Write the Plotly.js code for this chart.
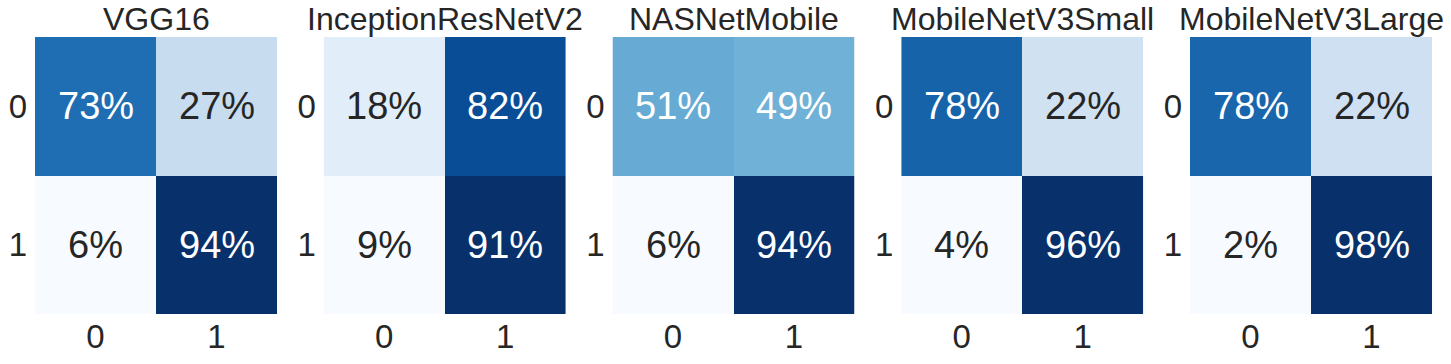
<!DOCTYPE html>
<html>
<head>
<meta charset="utf-8">
<script src="https://cdn.plot.ly/plotly-3.0.1.min.js"></script>
<style>
  html, body { margin: 0; padding: 0; background: white; }
  #chart { width: 1451px; height: 364px; }
</style>
</head>
<body>
<div id="chart"></div>
<script>
// confusion matrices, row-normalised, in percent
const models = ['VGG16', 'InceptionResNetV2', 'NASNetMobile', 'MobileNetV3Small', 'MobileNetV3Large'];
const classes = ['0', '1'];
const vgg16 = [[73, 27], [6, 94]];
const inceptionResNetV2 = [[18, 82], [9, 91]];
const nasNetMobile = [[51, 49], [6, 94]];
const mobileNetV3Small = [[78, 22], [4, 96]];
const mobileNetV3Large = [[78, 22], [2, 98]];
const matrices = [vgg16, inceptionResNetV2, nasNetMobile, mobileNetV3Small, mobileNetV3Large];

// matplotlib "Blues"
const BLUES = [
  [0, '#f7fbff'], [0.125, '#deebf7'], [0.25, '#c6dbef'], [0.375, '#9ecae1'],
  [0.5, '#6baed6'], [0.625, '#4292c6'], [0.75, '#2171b5'], [0.875, '#08519c'], [1, '#08306b'],
];

const W = 1451, H = 364;
const PANEL_LEFT = 35, PANEL_STEP = 288.75, PANEL_W = 242;
const TOP = 37, BOTTOM = 314;
const FONT = 'Liberation Sans, Arial, sans-serif';
const DARK = '#262626';

const data = [];
const layout = {
  width: W, height: H,
  margin: { t: 0, r: 0, b: 0, l: 0 },
  paper_bgcolor: 'white',
  plot_bgcolor: 'white',
  font: { family: FONT, color: DARK },
  showlegend: false,
  annotations: [],
};

matrices.forEach((m, i) => {
  const n = i + 1;
  const xa = n === 1 ? 'x' : 'x' + n;
  const ya = n === 1 ? 'y' : 'y' + n;
  const z = m.map(row => row.map(v => v / 100));
  // colour range follows each matrix (seaborn default)
  const flat = z.flat();
  const lo = Math.min(...flat), hi = Math.max(...flat);

  data.push({
    type: 'heatmap',
    z: z,
    x: classes,
    y: classes,
    xaxis: xa,
    yaxis: ya,
    zmin: lo,
    zmax: hi,
    colorscale: BLUES,
    showscale: false,
    hovertemplate: '%{y} → %{x}: %{z:.0%}<extra></extra>',
  });

  const left = (PANEL_LEFT + i * PANEL_STEP) / W;
  const right = (PANEL_LEFT + i * PANEL_STEP + PANEL_W) / W;
  const axisCommon = {
    showgrid: false, zeroline: false, showline: false, ticks: '',
    tickfont: { size: 33, color: DARK, family: FONT },
    fixedrange: true,
  };
  layout['xaxis' + (n === 1 ? '' : n)] = {
    ...axisCommon,
    domain: [left, right],
    anchor: ya,
    type: 'category',
    ticklabelstandoff: 0,
  };
  layout['yaxis' + (n === 1 ? '' : n)] = {
    ...axisCommon,
    domain: [1 - BOTTOM / H, 1 - TOP / H],
    anchor: xa,
    type: 'category',
    autorange: 'reversed',
    ticklabelstandoff: 7,
  };

  // model title
  layout.annotations.push({
    text: models[i],
    xref: 'paper', yref: 'paper',
    x: (left + right) / 2, y: 1 - TOP / H,
    xanchor: 'center', yanchor: 'bottom',
    yshift: -2,
    showarrow: false,
    font: { size: 32, color: DARK, family: FONT },
  });

  // cell labels
  m.forEach((row, r) => {
    row.forEach((v, c) => {
      const t = (v / 100 - lo) / (hi - lo);
      layout.annotations.push({
        text: v + '%',
        xref: xa, yref: ya,
        x: classes[c], y: classes[r],
        showarrow: false,
        font: { size: 38, family: FONT, color: t > 0.4 ? 'white' : DARK },
      });
    });
  });
});

Plotly.newPlot('chart', data, layout, { displayModeBar: false, staticPlot: true });
</script>
</body>
</html>
